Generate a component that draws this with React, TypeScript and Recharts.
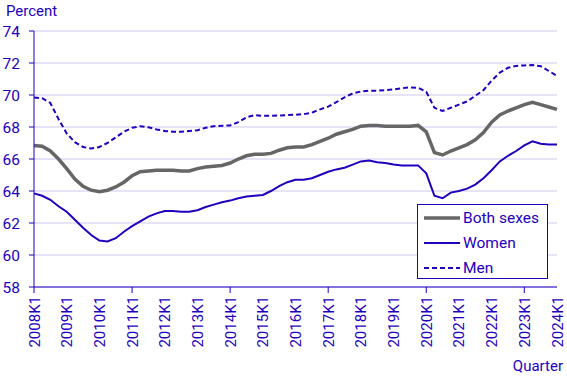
import React from "react";
import { LineChart, Line, XAxis, YAxis, CartesianGrid, Legend } from "recharts";

const BLUE = "#1e00be";
const GRAY = "#666666";
const GRID = "#cdc8ee";
const FONT = "Roboto, Arial, sans-serif";

// quarters 2008K1 .. 2024K1
const quarters: string[] = [];
for (let y = 2008; y <= 2024; y++) {
  for (let q = 1; q <= 4; q++) {
    if (y === 2024 && q > 1) break;
    quarters.push(`${y}K${q}`);
  }
}

const bothSexes = [
  66.85, 66.8, 66.5, 66.0, 65.4, 64.75, 64.3, 64.05,
  63.95, 64.05, 64.25, 64.55, 64.95, 65.2, 65.25, 65.3,
  65.3, 65.3, 65.25, 65.25, 65.4, 65.5, 65.55, 65.6,
  65.75, 66.0, 66.2, 66.3, 66.3, 66.35, 66.55, 66.7,
  66.75, 66.75, 66.9, 67.1, 67.3, 67.55, 67.7, 67.85,
  68.05, 68.1, 68.1, 68.05, 68.05, 68.05, 68.05, 68.1,
  67.7, 66.4, 66.25, 66.5, 66.7, 66.9, 67.2, 67.65,
  68.3, 68.75, 69.0, 69.2, 69.4, 69.55, 69.4, 69.25,
  69.1,
];

const women = [
  63.85, 63.7, 63.45, 63.05, 62.7, 62.2, 61.7, 61.25,
  60.9, 60.85, 61.05, 61.45, 61.8, 62.1, 62.4, 62.6,
  62.75, 62.75, 62.7, 62.7, 62.8, 63.0, 63.15, 63.3,
  63.4, 63.55, 63.65, 63.7, 63.75, 64.0, 64.3, 64.55,
  64.7, 64.7, 64.8, 65.0, 65.2, 65.35, 65.45, 65.65,
  65.85, 65.9, 65.8, 65.75, 65.65, 65.6, 65.6, 65.6,
  65.1, 63.7, 63.55, 63.9, 64.0, 64.15, 64.4, 64.8,
  65.3, 65.85, 66.2, 66.5, 66.85, 67.1, 66.95, 66.9,
  66.9,
];

const men = [
  69.85, 69.8, 69.5, 68.5, 67.6, 67.05, 66.75, 66.65,
  66.75, 67.0, 67.35, 67.7, 67.95, 68.05, 67.98, 67.85,
  67.75, 67.7, 67.7, 67.75, 67.8, 67.95, 68.05, 68.08,
  68.1, 68.3, 68.6, 68.75, 68.7, 68.7, 68.72, 68.75,
  68.77, 68.8, 68.9, 69.1, 69.27, 69.55, 69.85, 70.1,
  70.22, 70.27, 70.27, 70.3, 70.35, 70.42, 70.48, 70.45,
  70.2, 69.2, 69.0, 69.2, 69.4, 69.6, 69.95, 70.3,
  70.9, 71.4, 71.7, 71.82, 71.85, 71.87, 71.8, 71.5,
  71.2,
];

const yTicks = [58, 60, 62, 64, 66, 68, 70, 72, 74];
const seriesNames = ["Both sexes", "Women", "Men"];

const rows = quarters.map((q, i) => ({
  quarter: q,
  "Both sexes": bothSexes[i],
  Women: women[i],
  Men: men[i],
}));

const seriesStyle: Record<string, { width: number; dash?: string }> = {
  "Both sexes": { width: 3.5 },
  Women: { width: 2 },
  Men: { width: 2, dash: "5 3" },
};

function XTick(props: any) {
  const { x, y, payload } = props;
  const label: string = payload.value;
  const year = parseInt(label.slice(0, 4), 10);
  const axisY = y - 8;
  return (
    <g>
      {(year - 2008) % 3 === 0 && (
        <line x1={x} y1={axisY} x2={x} y2={axisY + 6} stroke={BLUE} strokeWidth={1} />
      )}
      <text
        x={0}
        y={0}
        transform={`translate(${x + 5.5},${axisY + 9}) rotate(-90)`}
        textAnchor="end"
        fill={BLUE}
        fontSize={15}
        fontFamily={FONT}
      >
        {label}
      </text>
    </g>
  );
}

function renderLegend(props: any) {
  const payload: any[] = props.payload || [];
  const ordered = seriesNames
    .map((n) => payload.find((p) => p.value === n))
    .filter(Boolean);
  return (
    <div
      style={{
        border: `1px solid ${BLUE}`,
        width: 129,
        height: 73,
        background: "#fff",
        fontFamily: FONT,
      }}
    >
      {ordered.map((entry: any) => {
        const st = seriesStyle[entry.value];
        return (
          <div
            key={entry.value}
            style={{ display: "flex", alignItems: "center", height: 25, marginLeft: 6 }}
          >
            <svg width={36} height={10}>
              <line
                x1={0}
                y1={5}
                x2={36}
                y2={5}
                stroke={entry.color}
                strokeWidth={st.width}
                strokeDasharray={st.dash}
              />
            </svg>
            <span style={{ marginLeft: 3, fontSize: 15.5, color: BLUE }}>{entry.value}</span>
          </div>
        );
      })}
    </div>
  );
}

export default function App() {
  return (
    <div
      style={{
        position: "absolute",
        left: 0,
        top: 0,
        width: 567,
        height: 378,
        background: "#fff",
        fontFamily: FONT,
      }}
    >
      <div style={{ position: "absolute", left: 6, top: 2, fontSize: 15, color: BLUE }}>
        Percent
      </div>
      <div style={{ position: "absolute", right: 4, top: 357, fontSize: 15, color: BLUE }}>
        Quarter
      </div>
      <LineChart
        width={567}
        height={378}
        data={rows}
        margin={{ top: 31, right: 10, bottom: 31, left: 0 }}
      >
        <CartesianGrid stroke={GRID} vertical={false} />
        <XAxis
          dataKey="quarter"
          interval={3}
          height={60}
          tickSize={6}
          tickMargin={2}
          tickLine={false}
          axisLine={{ stroke: BLUE }}
          tick={<XTick />}
        />
        <YAxis
          domain={[58, 74]}
          ticks={yTicks}
          width={34}
          tickSize={5}
          tickMargin={9}
          axisLine={{ stroke: BLUE }}
          tickLine={{ stroke: BLUE }}
          tick={{ fill: BLUE, fontSize: 15.5, fontFamily: FONT }}
        />
        <Legend
          layout="vertical"
          align="center"
          verticalAlign="middle"
          wrapperStyle={{ left: 417, top: 204, width: 131, height: 75 }}
          content={renderLegend}
        />
        <Line
          type="linear"
          dataKey="Both sexes"
          stroke={GRAY}
          strokeWidth={3.5}
          dot={false}
          isAnimationActive={false}
        />
        <Line
          type="linear"
          dataKey="Women"
          stroke={BLUE}
          strokeWidth={2}
          dot={false}
          isAnimationActive={false}
        />
        <Line
          type="linear"
          dataKey="Men"
          stroke={BLUE}
          strokeWidth={2}
          strokeDasharray="5 3"
          dot={false}
          isAnimationActive={false}
        />
      </LineChart>
    </div>
  );
}
